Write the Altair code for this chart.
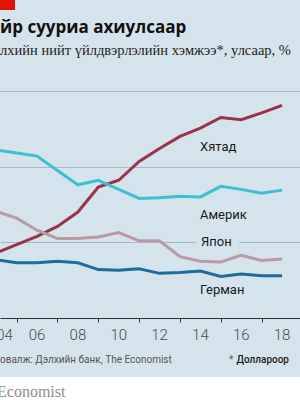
import altair as alt
import pandas as pd

years = list(range(2004, 2019))
china = [8.6, 9.7, 10.8, 12.1, 14.0, 17.3, 18.2, 20.7, 22.4, 24.0, 25.1, 26.5, 26.2, 27.1, 28.1]
usa = [22.2, 21.8, 21.4, 19.5, 17.6, 18.2, 17.0, 15.8, 15.9, 16.1, 16.0, 17.4, 17.0, 16.5, 16.9]
japan = [14.1, 13.2, 11.6, 10.5, 10.5, 10.7, 11.3, 10.2, 10.2, 8.1, 7.5, 7.4, 8.3, 7.6, 7.8]
germany = [7.7, 7.3, 7.3, 7.5, 7.3, 6.4, 6.3, 6.5, 5.9, 6.0, 6.2, 5.5, 5.8, 5.6, 5.6]
countries = ["Хятад", "Америк", "Япон", "Герман"]
colors = ["#9a3349", "#3fbfd2", "#b89aa6", "#1f6c9a"]
tick_years = list(range(2005, 2019))
label_years = [2006, 2008, 2010, 2012, 2014, 2016, 2018]
label_texts = ["06", "08", "10", "12", "14", "16", "18"]
grid_values = [10, 20, 30]

title = "йр сууриа ахиулсаар"
subtitle = "лхийн нийт үйлдвэрлэлийн хэмжээ*, улсаар, %"
source = "овалж: Дэлхийн банк, The Economist"
footnote = "Доллароор"
brand = "Economist"

BG = "#d5e4ec"
SANS = "Roboto, sans-serif"
SERIF = "Liberation Serif, DejaVu Serif, serif"

rows = []
for name, vals in zip(countries, [china, usa, japan, germany]):
    for y, v in zip(years, vals):
        rows.append({"year": y, "value": v, "country": name})
df = pd.DataFrame(rows)

xscale = alt.Scale(domain=[2004.186, 2018.877], nice=False, zero=False)
yscale = alt.Scale(domain=[0, 30], nice=False, zero=True)

one = alt.Data(values=[{"k": 1}])

lines = alt.Chart(df).mark_line(strokeWidth=3, clip=True).encode(
    x=alt.X("year:Q", scale=xscale,
            axis=alt.Axis(values=tick_years, labels=False, grid=False, title=None,
                          domain=True, domainColor="#333333", domainWidth=1,
                          ticks=True, tickColor="#333333", tickWidth=1,
                          tickSize={"condition": {"test": "datum.value % 2 === 0", "value": 7}, "value": 4})),
    y=alt.Y("value:Q", scale=yscale,
            axis=alt.Axis(values=grid_values, grid=True, gridColor="#a9b9c3", gridWidth=1,
                          labels=False, ticks=False, domain=False, title=None)),
    color=alt.Color("country:N", scale=alt.Scale(domain=countries, range=colors), legend=None),
    order=alt.Order("year:Q"),
)

lab_df = pd.DataFrame({"year": label_years, "txt": label_texts})
xlabels = alt.Chart(lab_df).mark_text(fontSize=15, font=SANS, fontWeight=300,
                                      color="#4a4a4a", baseline="middle", align="center").encode(
    x=alt.X("year:Q", scale=xscale), y=alt.value(244), text="txt:N")
first_label = alt.Chart(pd.DataFrame({"year": [2004], "txt": ["04"]})).mark_text(
    fontSize=15, font=SANS, fontWeight=300, color="#4a4a4a", baseline="middle",
    align="left", dx=0).encode(x=alt.X("year:Q", scale=xscale), y=alt.value(244), text="txt:N")

def txt(s, x, y, size, color, font, weight="normal", align="left", baseline="alphabetic"):
    return alt.Chart(one).mark_text(fontSize=size, color=color, font=font, fontWeight=weight,
                                     align=align, baseline=baseline).encode(
        x=alt.value(x), y=alt.value(y), text=alt.value(s))

gap = alt.Chart(one).mark_rect(color=BG).encode(
    x=alt.value(196), x2=alt.value(239), y=alt.value(147), y2=alt.value(157))

footer = alt.Chart(one).mark_rect(color="#ffffff").encode(
    x=alt.value(0), x2=alt.value(300), y=alt.value(286), y2=alt.value(309))
red = alt.Chart(one).mark_rect(color="#e3120b").encode(
    x=alt.value(0), x2=alt.value(15), y=alt.value(-91), y2=alt.value(-81))

layers = [
    lines, gap, footer, red, xlabels, first_label,
    txt(title, 0, -58, 17, "#111111", "Open Sans, Noto Sans, sans-serif", "bold"),
    txt(subtitle, 0, -36, 14.5, "#222222", SERIF),
    txt("Хятад", 200, 56, 13, "#1a1a1a", SANS, baseline="middle"),
    txt("Америк", 200, 124, 13, "#1a1a1a", SANS, baseline="middle"),
    txt("Япон", 201, 151, 13, "#1a1a1a", SANS, baseline="middle"),
    txt("Герман", 200, 199, 13, "#1a1a1a", SANS, baseline="middle"),
    txt(source, 0, 272, 10, "#555555", SANS),
    txt("*", 229, 272, 10, "#555555", SANS),
    txt(footnote, 289, 272, 10, "#1a1a1a", SANS, 500, align="right"),
    txt(brand, -3, 306, 16, "#8e8e8e", SERIF),
]

chart = alt.layer(*layers).properties(
    width=300, height=227,
    padding={"left": 0, "top": 91, "right": 0, "bottom": 82},
    autosize="none",
    background=BG,
).configure_view(stroke=None)

chart.save("out.html", embed_options={"renderer": "svg", "actions": False})
